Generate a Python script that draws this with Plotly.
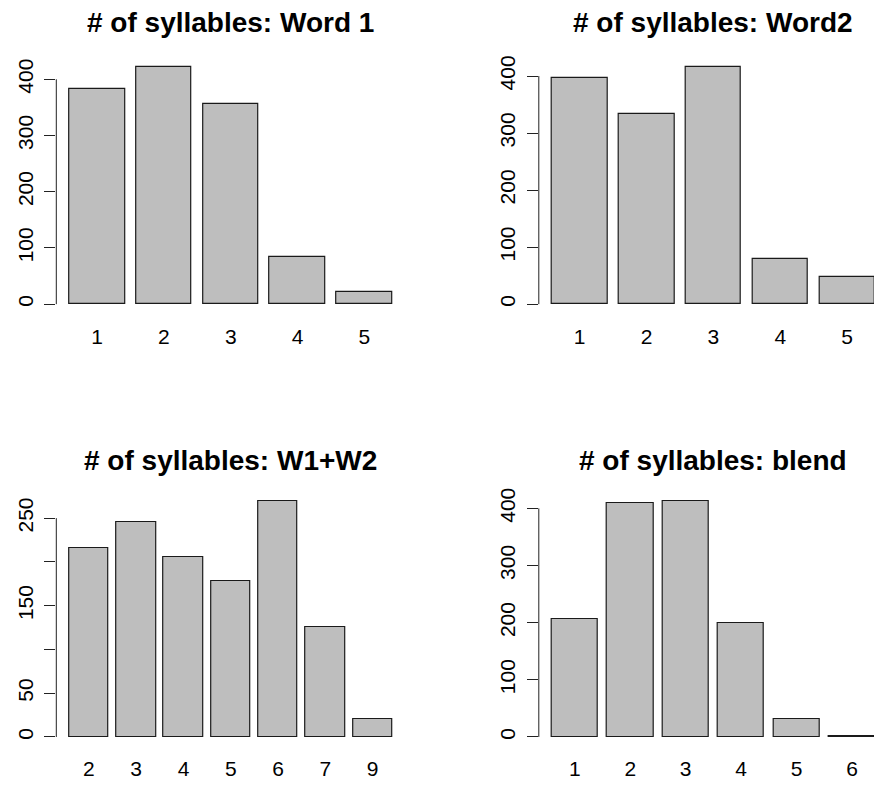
import plotly.graph_objects as go

W, H = 874, 785

# ---- data ----
titles = ["# of syllables: Word 1", "# of syllables: Word2",
          "# of syllables: W1+W2", "# of syllables: blend"]

cats_word1 = ["1", "2", "3", "4", "5"]
vals_word1 = [383, 421, 356, 83, 22]

cats_word2 = ["1", "2", "3", "4", "5"]
vals_word2 = [396, 333, 415, 80, 47]

cats_w1w2 = ["2", "3", "4", "5", "6", "7", "9"]
vals_w1w2 = [216, 246, 205, 178, 269, 126, 21]

cats_blend = ["1", "2", "3", "4", "5", "6"]
vals_blend = [206, 409, 412, 199, 32, 2]

yticks_word1 = [0, 100, 200, 300, 400]
ytext_word1 = ["0", "100", "200", "300", "400"]
yticks_word2 = [0, 100, 200, 300, 400]
ytext_word2 = ["0", "100", "200", "300", "400"]
yticks_w1w2 = [0, 50, 100, 150, 200, 250]
ytext_w1w2 = ["0", "50", "", "150", "", "250"]
yticks_blend = [0, 100, 200, 300, 400]
ytext_blend = ["0", "100", "200", "300", "400"]

panels = [
    (titles[0], cats_word1, vals_word1, yticks_word1, ytext_word1),
    (titles[1], cats_word2, vals_word2, yticks_word2, ytext_word2),
    (titles[2], cats_w1w2, vals_w1w2, yticks_w1w2, ytext_w1w2),
    (titles[3], cats_blend, vals_blend, yticks_blend, ytext_blend),
]

# plot regions in pixels (left, right), (top, bottom)
cols = [(56.3, 405.2), (538.8, 888.0)]
rows = [(54.3, 311.2), (490.6, 746.2)]
title_y = [19, 459]

FONT = "Liberation Sans, Arial, sans-serif"
AXCOL = "#222222"
fig = go.Figure()
annotations = []
shapes = []

for k, (title, cats, vals, ytv, ytt) in enumerate(panels):
    r, c = divmod(k, 2)
    left, right = cols[c]
    top, bottom = rows[r]
    n = len(vals)
    centers = [0.7 + 1.2 * i for i in range(n)]
    xl, xr = 0.2, 1.2 * n
    ext = 0.04 * (xr - xl)
    ul, ur = xl - ext, xr + ext
    vis_right = min(right, W)
    range_r = ul + (ur - ul) * (vis_right - left) / (right - left)
    ymax = max(vals)
    yl, yr = -0.04 * ymax, 1.04 * ymax

    idx = "" if k == 0 else str(k + 1)
    fig.add_trace(go.Bar(
        x=centers, y=vals, width=1.0,
        marker=dict(color="#BEBEBE", line=dict(color="#1a1a1a", width=1.2)),
        xaxis="x" + idx, yaxis="y" + idx, showlegend=False,
        hoverinfo="skip",
    ))
    fig.layout["xaxis" + idx] = dict(
        domain=[left / W, vis_right / W], range=[ul, range_r],
        anchor="y" + idx, showgrid=False, zeroline=False, showline=False,
        ticks="", tickvals=centers, ticktext=cats,
        tickfont=dict(family=FONT, size=21, color="black"),
        ticklabelstandoff=8, fixedrange=True,
    )
    fig.layout["yaxis" + idx] = dict(
        domain=[1 - bottom / H, 1 - top / H], range=[yl, yr],
        anchor="x" + idx, showgrid=False, zeroline=False, showline=False,
        ticks="outside", ticklen=11, tickwidth=1, tickcolor=AXCOL,
        tickvals=ytv, ticktext=ytt, tickangle=-90,
        tickfont=dict(family=FONT, size=21, color="black"),
        ticklabelstandoff=3, fixedrange=True,
    )
    shapes.append(dict(
        type="line", xref="x" + idx + " domain", yref="y" + idx,
        x0=0, x1=0, y0=ytv[0], y1=ytv[-1],
        line=dict(color=AXCOL, width=1),
    ))
    annotations.append(dict(
        text="<b>" + title + "</b>", xref="paper", yref="paper",
        x=((left + right) / 2) / W, y=1 - title_y[r] / H,
        xanchor="center", yanchor="middle", showarrow=False,
        font=dict(family=FONT, size=28, color="black"),
    ))

fig.update_layout(
    width=W, height=H, margin=dict(l=0, r=0, t=0, b=0),
    paper_bgcolor="white", plot_bgcolor="white",
    annotations=annotations, shapes=shapes, bargap=0,
)

fig.write_html("out.html", config={"displayModeBar": False},
               post_script="document.body.style.margin='0';document.body.style.overflow='hidden';")
